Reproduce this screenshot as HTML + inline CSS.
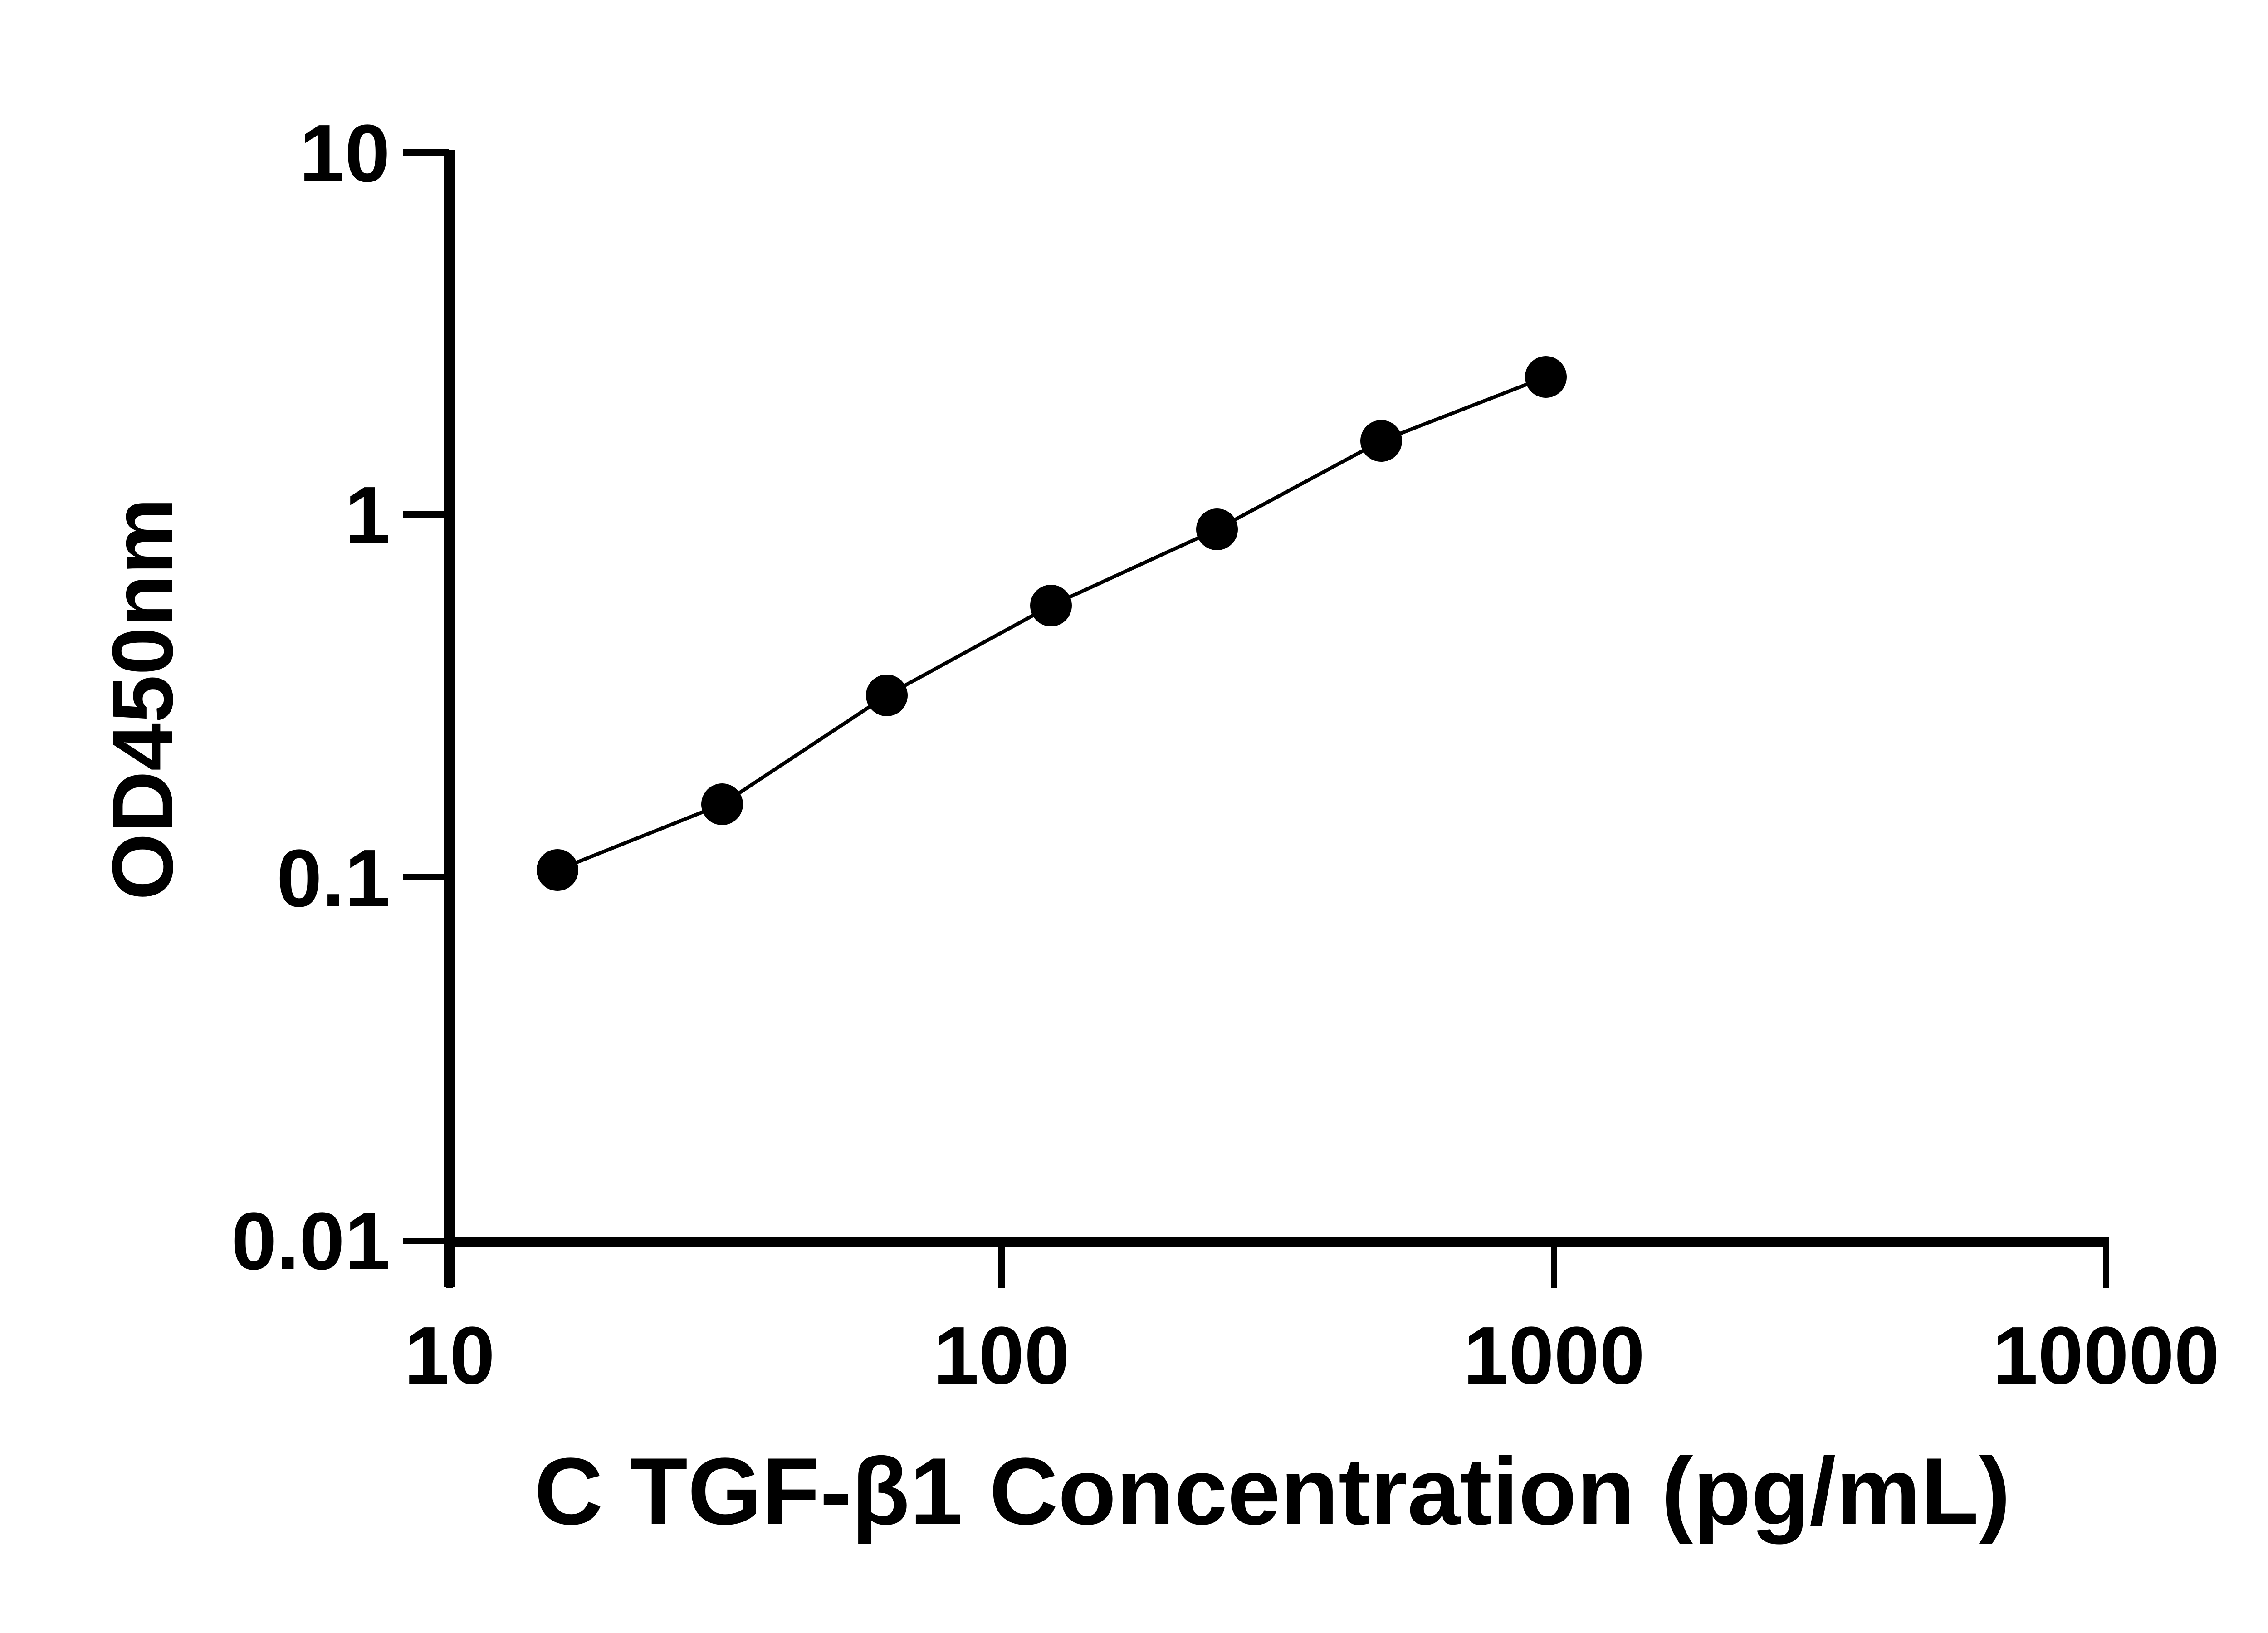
<!DOCTYPE html>
<html><head><meta charset="utf-8"><style>
html,body{margin:0;padding:0;background:#fff;}
svg{display:block;}
text{font-family:"Liberation Sans",sans-serif;font-weight:bold;fill:#000;}
</style></head><body>
<svg width="5142" height="3600" viewBox="0 0 5142 3600" xmlns="http://www.w3.org/2000/svg">
<g stroke="#000" fill="none">
<line x1="990" y1="330" x2="990" y2="2837" stroke-width="24"/>
<line x1="978" y1="2738" x2="4650" y2="2738" stroke-width="24"/>
<g stroke-width="14">
<line x1="888" y1="336" x2="990" y2="336"/>
<line x1="888" y1="1134" x2="990" y2="1134"/>
<line x1="888" y1="1934" x2="990" y2="1934"/>
<line x1="888" y1="2736" x2="990" y2="2736"/>
<line x1="991" y1="2738" x2="991" y2="2840"/>
<line x1="2208" y1="2738" x2="2208" y2="2840"/>
<line x1="3426" y1="2738" x2="3426" y2="2840"/>
<line x1="4643" y1="2738" x2="4643" y2="2840"/>
</g>
<polyline stroke-width="8" points="1229,1918 1592,1773 1955,1533 2317,1335 2683,1167 3045,972 3408,831"/>
</g>
<g fill="#000">
<circle cx="1229" cy="1918" r="46"/>
<circle cx="1592" cy="1773" r="46"/>
<circle cx="1955" cy="1533" r="46"/>
<circle cx="2317" cy="1335" r="46"/>
<circle cx="2683" cy="1167" r="46"/>
<circle cx="3045" cy="972" r="46"/>
<circle cx="3408" cy="831" r="46"/>
</g>
<g font-size="180" text-anchor="end">
<text x="860" y="400">10</text>
<text x="860" y="1198">1</text>
<text x="860" y="1998">0.1</text>
<text x="860" y="2798">0.01</text>
</g>
<g font-size="180" text-anchor="middle">
<text x="991" y="3050">10</text>
<text x="2208" y="3050">100</text>
<text x="3426" y="3050">1000</text>
<text x="4643" y="3050">10000</text>
</g>
<text x="2805" y="3360" font-size="210" text-anchor="middle">C TGF-β1 Concentration (pg/mL)</text>
<text transform="translate(380,1541) rotate(-90)" font-size="190" text-anchor="middle">OD450nm</text>
</svg>
</body></html>
